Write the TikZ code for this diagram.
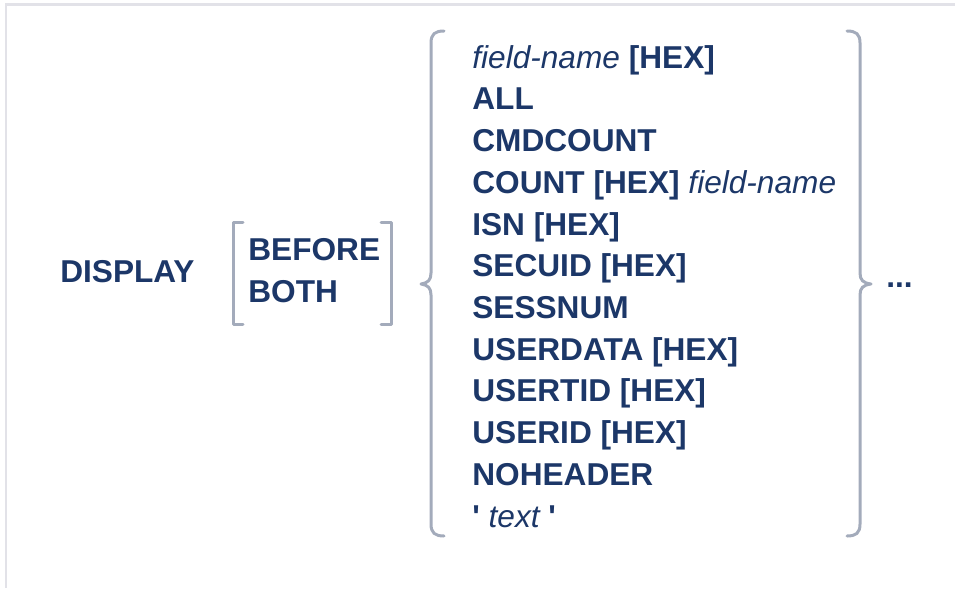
\documentclass[tikz,border=0pt]{standalone}
\usepackage{fontspec}
\setmainfont{Liberation Sans}
\usepackage{tikz}
\usetikzlibrary{positioning}
\definecolor{navytext}{RGB}{28,55,104}
\definecolor{graybrk}{RGB}{163,171,187}
\definecolor{frameline}{RGB}{226,226,232}
\tikzset{
  kw/.style={inner sep=0pt, anchor=base west, text=navytext,
             font=\fontsize{18}{21}\selectfont\bfseries},
  brk/.style={draw=graybrk, line width=0.06cm, line cap=round,
              line join=round},
  frm/.style={draw=frameline, line width=0.06cm}
}
\newcommand{\varname}[1]{{\mdseries\itshape #1}}

\begin{document}
\begin{tikzpicture}[x=0.02cm, y=-0.02cm]
  \useasboundingbox (0,0) rectangle (955,588);

  %% ── рамка (только сверху и слева) ──────────────────────
  \draw[frm] (6,588) -- (6,5) -- (955,5);

  %% ── команда и необязательная часть ─────────────────────
  \node[kw] (disp)   at (60,282)  {DISPLAY};
  \node[kw] (before) at (248,260) {BEFORE};
  \node[kw] (both)   at (248,302) {BOTH};

  \draw[brk] (243,222) -- (233,222) -- (233,324) -- (243,324);
  \draw[brk] (381,222) -- (391,222) -- (391,324) -- (381,324);

  %% ── варианты в фигурных скобках ────────────────────────
  \node[kw] (fname)  at (472,68.3) {\varname{field-name} [HEX]};
  \node[kw] (all)    at (472,110)  {ALL};
  \node[kw] (cmdcnt) at (472,151.7){CMDCOUNT};
  \node[kw] (count)  at (472,193.4){COUNT [HEX] \varname{field-name}};
  \node[kw] (isn)    at (472,235.1){ISN [HEX]};
  \node[kw] (secuid) at (472,276.8){SECUID [HEX]};
  \node[kw] (sessn)  at (472,318.5){SESSNUM};
  \node[kw] (udata)  at (472,360.2){USERDATA [HEX]};
  \node[kw] (utid)   at (472,401.9){USERTID [HEX]};
  \node[kw] (uid)    at (472,443.6){USERID [HEX]};
  \node[kw] (nohdr)  at (472,485.3){NOHEADER};
  \node[kw] (txt)    at (472,527)
    {\textquotesingle{} \varname{text} \textquotesingle};

  %% левая фигурная скобка
  \draw[brk] (444,31) .. controls (435,31) and (431,34) .. (431,43)
    -- (431,273) .. controls (431,280) and (428,283) .. (421,284)
    .. controls (428,285) and (431,288) .. (431,295)
    -- (431,524) .. controls (431,533) and (435,536) .. (444,536);
  %% правая фигурная скобка
  \draw[brk] (847,31) .. controls (856,31) and (860,34) .. (860,43)
    -- (860,273) .. controls (860,280) and (863,283) .. (871,284)
    .. controls (863,285) and (860,288) .. (860,295)
    -- (860,524) .. controls (860,533) and (856,536) .. (847,536);

  \node[kw] (rep) at (886,287) {...};

\end{tikzpicture}
\end{document}
